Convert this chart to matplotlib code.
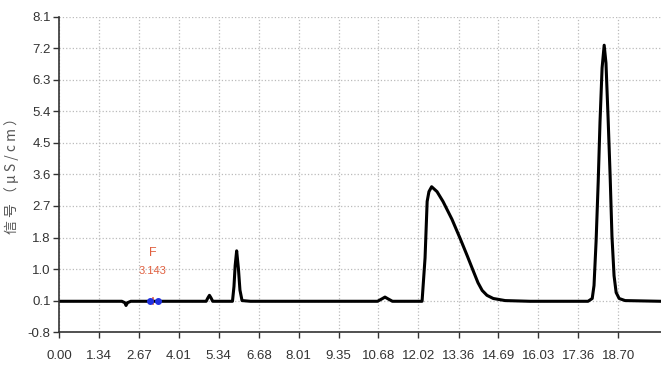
import matplotlib
matplotlib.use("Agg")
import matplotlib.pyplot as plt

# chromatogram trace (time in min, signal in uS/cm)
t = [0.00, 2.10, 2.20, 2.24, 2.29, 2.40, 3.60, 4.92, 4.98, 5.03, 5.08, 5.14,
     5.80, 5.85, 5.89, 5.94, 6.00, 6.05, 6.12, 6.40, 10.65, 10.80, 10.90,
     11.00, 11.15, 12.14, 12.24, 12.31, 12.37, 12.46, 12.64, 12.84, 13.14,
     13.41, 13.65, 13.85, 14.01, 14.15, 14.31, 14.52, 14.92, 15.75, 17.69,
     17.83, 17.89, 17.96, 18.03, 18.09, 18.16, 18.23, 18.29, 18.36, 18.43,
     18.49, 18.56, 18.63, 18.73, 18.93, 20.13]
signal = [0.08, 0.08, 0.04, -0.04, 0.04, 0.08, 0.08, 0.08, 0.18, 0.25, 0.18,
          0.08, 0.08, 0.50, 1.10, 1.52, 1.00, 0.40, 0.10, 0.08, 0.08, 0.15,
          0.20, 0.15, 0.08, 0.08, 1.32, 2.93, 3.21, 3.35, 3.21, 2.93, 2.42,
          1.88, 1.38, 0.95, 0.61, 0.39, 0.25, 0.16, 0.10, 0.08, 0.08, 0.16,
          0.53, 1.80, 3.49, 5.19, 6.74, 7.39, 6.88, 5.33, 3.63, 1.94, 0.81,
          0.33, 0.16, 0.10, 0.08]

marker_t = [3.04, 3.31]
marker_v = [0.08, 0.08]
peak_name = "F"
peak_time = "3.143"

xticks = [0.00, 1.34, 2.67, 4.01, 5.34, 6.68, 8.01, 9.35, 10.68, 12.02,
          13.36, 14.69, 16.03, 17.36, 18.70]
xtick_labels = ["0.00", "1.34", "2.67", "4.01", "5.34", "6.68", "8.01", "9.35",
                "10.68", "12.02", "13.36", "14.69", "16.03", "17.36", "18.70"]
yticks = [-0.8, 0.1, 1.0, 1.9, 2.8, 3.7, 4.6, 5.5, 6.4, 7.3, 8.2]
ytick_labels = ["-0.8", "0.1", "1.0", "1.8", "2.7", "3.6", "4.5", "5.4",
                "6.3", "7.2", "8.1"]

tick_font = ["Liberation Sans", "DejaVu Sans"]

fig = plt.figure(figsize=(6.61, 3.74), dpi=100)
ax = fig.add_axes([0.0893, 0.112, 0.9107, 0.843])

ax.plot(t, signal, color="black", linewidth=2.2, solid_joinstyle="round")
ax.plot([3.14, 3.14], [0.0, 0.16], color="#e05030", linewidth=1.2)
ax.plot(marker_t, marker_v, "o", color="#2030e0", markersize=4)
ax.text(3.14, 1.45, peak_name, color="#e06040", ha="center", va="center",
        fontsize=9, family=tick_font)
ax.text(3.14, 0.95, peak_time, color="#e06040", ha="center", va="center",
        fontsize=8, family=tick_font)

ax.set_xlim(0, 20.13)
ax.set_ylim(-0.8, 8.2)
ax.set_xticks(xticks)
ax.set_xticklabels(xtick_labels, family=tick_font, fontsize=9.5, color="#333")
ax.set_yticks(yticks)
ax.set_yticklabels(ytick_labels, family=tick_font, fontsize=9.5, color="#333")
ax.tick_params(axis="both", direction="out", length=4, width=1, color="#333")
ax.tick_params(axis="x", pad=9)
ax.tick_params(axis="y", pad=2)

ax.grid(True, linestyle=":", color="#bbbbbb", linewidth=0.9)
ax.set_axisbelow(True)
for side in ["top", "right"]:
    ax.spines[side].set_visible(False)
for side in ["left", "bottom"]:
    ax.spines[side].set_color("#333")
    ax.spines[side].set_linewidth(1.2)

ax.set_ylabel("信 号 （ μ S / c m ）", family=["Noto Sans CJK SC", "DejaVu Sans"],
              fontsize=10, color="#555")
ax.yaxis.set_label_coords(-0.066, 0.505)

fig.savefig("out.png", dpi=100)
